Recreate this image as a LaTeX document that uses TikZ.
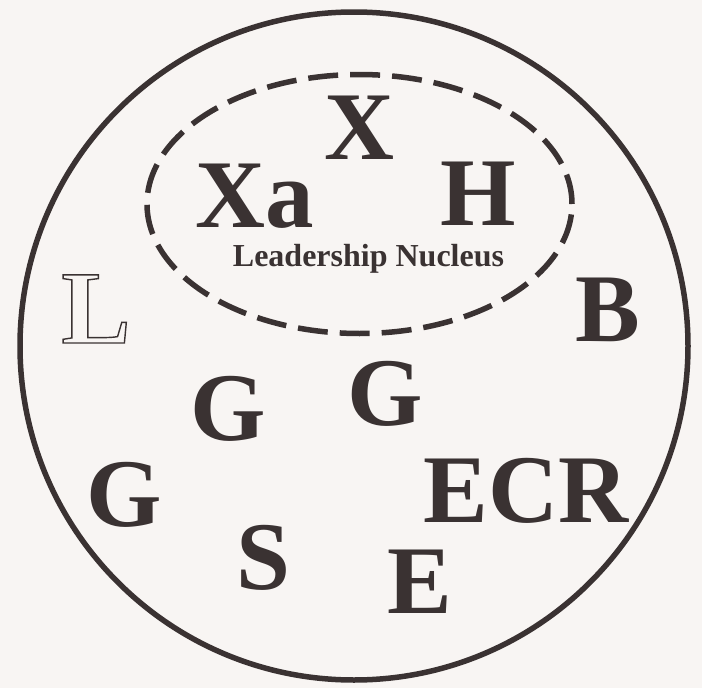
\documentclass[tikz,border=0pt]{standalone}
\usepackage{fontspec}
\setmainfont{Liberation Serif}
\usetikzlibrary{shapes.geometric}
\definecolor{ink}{RGB}{58,50,50}
\definecolor{paper}{RGB}{248,245,243}
\begin{document}
\begin{tikzpicture}[x=1pt,y=-1pt,
  big/.style={anchor=base, inner sep=0pt, outer sep=0pt, text=ink,
    font=\fontsize{97}{97}\selectfont\bfseries},
  hollow/.style={anchor=base, inner sep=0pt, outer sep=0pt, text=ink,
    font=\fontsize{104}{104}\selectfont\bfseries},
  caption/.style={anchor=base, inner sep=0pt, outer sep=0pt, text=ink,
    font=\fontsize{32}{32}\selectfont\bfseries},
  outerring/.style={circle, draw=ink, line width=5.5pt, inner sep=0pt,
    minimum size=668pt},
  nucleusring/.style={ellipse, draw=ink, line width=5.5pt, inner sep=0pt,
    minimum width=425pt, minimum height=259pt,
    dash pattern=on 30pt off 12pt}]
\fill[paper] (0,0) rectangle (702,688);
\useasboundingbox (0,0) rectangle (702,688);
% outer circle and leadership nucleus
\node[outerring] (outer) at (354,346) {};
\node[nucleusring] (nucleus) at (359.5,204) {};
% letters inside the nucleus
\node[big] (X) at (359.5,159) {X};
\node[big] (Xa) at (254.5,227) {Xa};
\node[big] (H) at (478,225) {H};
\node[caption] (label) at (368.5,266) {Leadership Nucleus};
% hollow (outlined) L
\node[hollow] (L) at (96,343)
  {\special{pdf:literal direct 1 Tr 1.4 w}L\special{pdf:literal direct 0 Tr}};
% other letters
\node[big] (B) at (608,341) {B};
\node[big] (G1) at (228.5,440) {G};
\node[big] (G2) at (385,425) {G};
\node[big] (G3) at (124,526) {G};
\node[big] (ECR) at (526,522) {ECR};
\node[big] (S) at (263,589) {S};
\node[big] (E) at (420,613) {E};
\end{tikzpicture}
\end{document}
